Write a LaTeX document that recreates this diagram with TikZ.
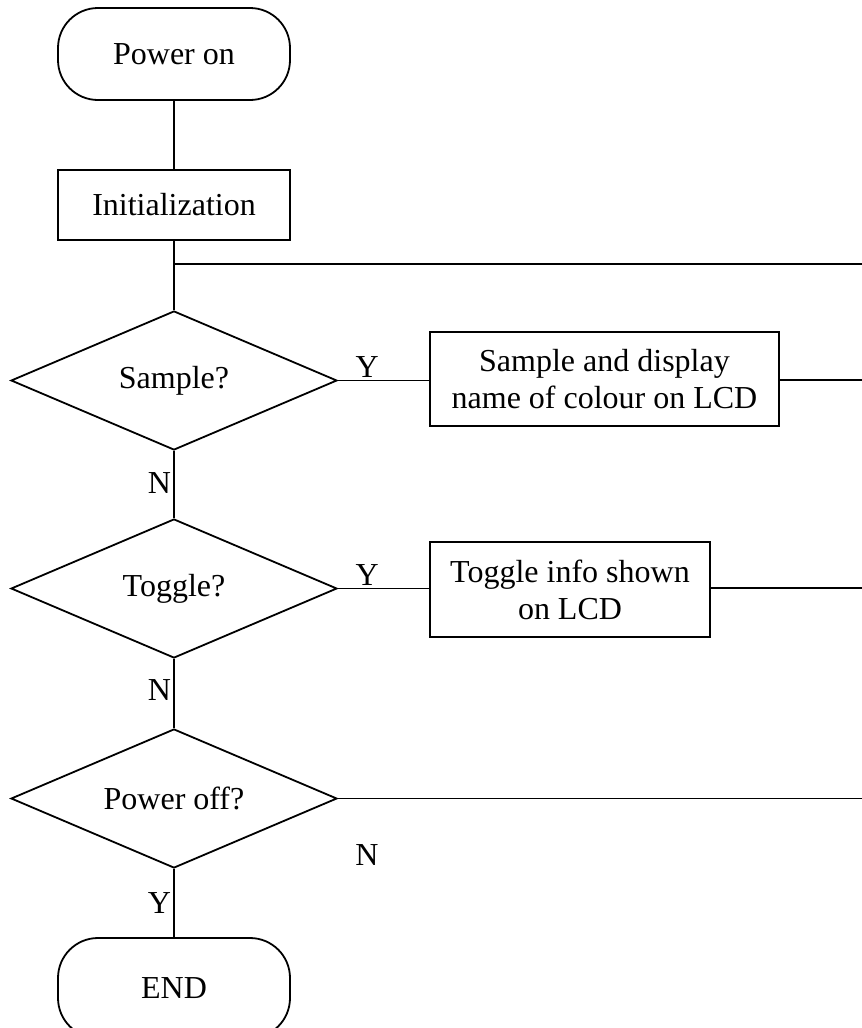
\documentclass[tikz,border=0pt]{standalone}
\usepackage{fontspec}
\setmainfont{Liberation Serif}
\usetikzlibrary{shapes.geometric}
\begin{document}
\begin{tikzpicture}[x=1pt,y=-1pt,
  line width=1.8pt,
  every node/.style={font=\fontsize{32}{37}\selectfont},
  terminal/.style={draw, rectangle, rounded corners=40pt, minimum width=232pt, minimum height=92pt, inner sep=0pt},
  process/.style={draw, rectangle, inner sep=0pt, align=center},
  decision/.style={draw, diamond, aspect=2.345, minimum width=326pt, minimum height=139pt, inner sep=0pt},
  lbl/.style={inner sep=2pt}
]
\useasboundingbox (0,0) rectangle (862,1028);
\fill[white] (0,0) rectangle (862,1028);
\clip (0,0) rectangle (862,1028);

\node[terminal] (on) at (174,54) {Power on};
\node[process, minimum width=232pt, minimum height=70pt] (init) at (174,205) {Initialization};
\node[decision] (s) at (174,380.5) {Sample?};
\node[process, minimum width=349pt, minimum height=94pt] (b1) at (604.5,379) {Sample and display\\name of colour on LCD};
\node[decision] (t) at (174,588.5) {Toggle?};
\node[process, minimum width=280pt, minimum height=95pt] (b2) at (570,589.5) {Toggle info shown\\on LCD};
\node[decision] (p) at (174,798.5) {Power off?};
\node[terminal, minimum height=100pt] (end) at (174,988) {END};
\node[lbl] (nlab) at (367,855) {N};

\coordinate (j) at (174,264);
\coordinate (r0) at (880,264);
\coordinate (r1) at (880,380);
\coordinate (r2) at (880,588);
\coordinate (r3) at (880,798.5);

\draw (on.south) -- (init.north);
\draw (init.south) -- (j) -- (s.north);
\draw (j) -- (r0);
\draw (s.east) -- node[lbl, above, pos=0.32] {Y} (b1.west |- s.east);
\draw (b1.east |- r1) -- (r1);
\draw (s.south) -- node[lbl, left, pos=0.48] {N} (t.north);
\draw (t.east) -- node[lbl, above, pos=0.32] {Y} (b2.west |- t.east);
\draw (b2.east |- r2) -- (r2);
\draw (t.south) -- node[lbl, left, pos=0.45] {N} (p.north);
\draw (p.east) -- (r3);
\draw (p.south) -- node[lbl, left, pos=0.5] {Y} (end.north);
\end{tikzpicture}
\end{document}
